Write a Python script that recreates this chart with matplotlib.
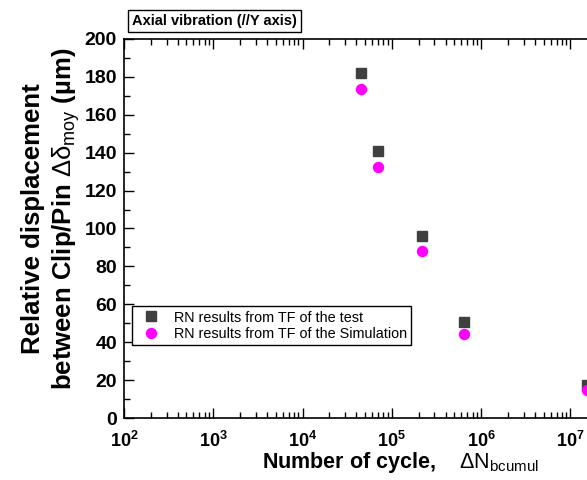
import matplotlib
matplotlib.use("Agg")
import matplotlib.pyplot as plt
from matplotlib.ticker import LogLocator, MultipleLocator, NullFormatter

plt.rcParams['font.family'] = ['Liberation Sans', 'DejaVu Sans']
plt.rcParams['mathtext.fontset'] = 'custom'
plt.rcParams['mathtext.rm'] = 'Liberation Sans'
plt.rcParams['mathtext.it'] = 'Liberation Sans:italic'
plt.rcParams['mathtext.bf'] = 'Liberation Sans:bold'

# Data
cycles = [4.5e4, 7.0e4, 2.2e5, 6.4e5, 1.55e7]
disp_test = [182, 141, 96, 50.5, 17.5]
disp_sim = [173.5, 132.5, 88, 44.5, 15]

fig = plt.figure(figsize=(5.87, 4.8), dpi=100)
# axes runs past the right edge of the figure (cropped like the original)
ax = fig.add_axes([0.2112, 0.129, 0.7987, 0.790])

ax.plot(cycles, disp_test, 's', color='#404040', markersize=7.5,
        label='RN results from TF of the test')
ax.plot(cycles, disp_sim, 'o', color='#ff00ff', markersize=8.2,
        markeredgewidth=0, label='RN results from TF of the Simulation')

ax.set_xscale('log')
ax.set_xlim(1e2, 10**7.25)
ax.set_ylim(0, 200)

ax.yaxis.set_major_locator(MultipleLocator(20))
ax.yaxis.set_minor_locator(MultipleLocator(10))
ax.xaxis.set_major_locator(LogLocator(base=10, numticks=10))
ax.xaxis.set_minor_locator(LogLocator(base=10, subs=range(2, 10), numticks=20))
ax.xaxis.set_minor_formatter(NullFormatter())

ax.tick_params(which='both', direction='in', top=True, right=False, width=1)
ax.tick_params(which='major', length=7)
ax.tick_params(which='minor', length=4)
ax.tick_params(axis='y', labelsize=14, pad=5)
ax.tick_params(axis='x', labelsize=13, pad=9)
for lab in ax.get_xticklabels() + ax.get_yticklabels():
    lab.set_fontweight('bold')
for sp in ax.spines.values():
    sp.set_linewidth(1.2)

ax.set_xlabel(r'Number of cycle, $\quad\mathrm{ΔN_{bcumul}}$',
              fontsize=15.5, fontweight='bold')
ax.xaxis.set_label_coords(0.589, -0.085)
ax.set_ylabel('Relative displacement\n'
              r'between Clip/Pin $\mathrm{Δδ_{moy}}$ (µm)',
              fontsize=18.5, fontweight='bold', linespacing=1.25)
ax.yaxis.set_label_coords(-0.09, 0.525)

ax.legend(loc='upper left', bbox_to_anchor=(0.017, 0.295), fontsize=10.4,
          frameon=True, fancybox=False, edgecolor='black', framealpha=1,
          handletextpad=0.6, borderpad=0.3, labelspacing=0.15,
          borderaxespad=0)

fig.text(132 / 587, 1 - 21 / 480, 'Axial vibration (//Y axis)', fontsize=10.5,
         fontweight='bold', ha='left', va='center',
         bbox=dict(facecolor='white', edgecolor='black', boxstyle='square,pad=0.25'))

fig.savefig('out.png', dpi=100)
